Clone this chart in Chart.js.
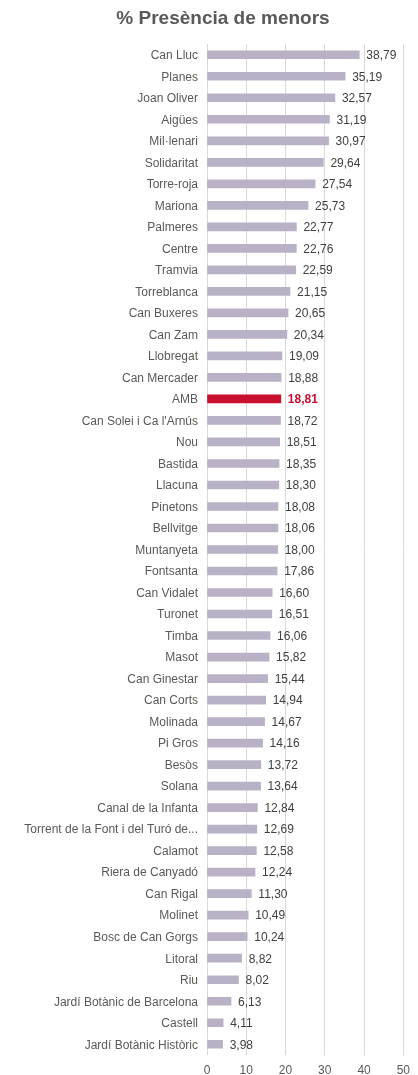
<!DOCTYPE html>
<html>
<head>
<meta charset="utf-8">
<script src="https://cdn.jsdelivr.net/npm/chart.js@4"></script>
<style>
  html, body { margin: 0; padding: 0; background: #fff; }
  #wrap { width: 418px; height: 1075px; position: relative; }
</style>
</head>
<body>
<div id="wrap"><canvas id="chart"></canvas></div>
<script>
const categories = [
  "Can Lluc", "Planes", "Joan Oliver", "Aigües", "Mil·lenari", "Solidaritat",
  "Torre-roja", "Mariona", "Palmeres", "Centre", "Tramvia", "Torreblanca",
  "Can Buxeres", "Can Zam", "Llobregat", "Can Mercader", "AMB",
  "Can Solei i Ca l'Arnús", "Nou", "Bastida", "Llacuna", "Pinetons",
  "Bellvitge", "Muntanyeta", "Fontsanta", "Can Vidalet", "Turonet", "Timba",
  "Masot", "Can Ginestar", "Can Corts", "Molinada", "Pi Gros", "Besòs",
  "Solana", "Canal de la Infanta", "Torrent de la Font i del Turó de...",
  "Calamot", "Riera de Canyadó", "Can Rigal", "Molinet", "Bosc de Can Gorgs",
  "Litoral", "Riu", "Jardí Botànic de Barcelona", "Castell", "Jardí Botànic Històric"
];
const values = [
  38.79, 35.19, 32.57, 31.19, 30.97, 29.64,
  27.54, 25.73, 22.77, 22.76, 22.59, 21.15,
  20.65, 20.34, 19.09, 18.88, 18.81,
  18.72, 18.51, 18.35, 18.30, 18.08,
  18.06, 18.00, 17.86, 16.60, 16.51, 16.06,
  15.82, 15.44, 14.94, 14.67, 14.16, 13.72,
  13.64, 12.84, 12.69,
  12.58, 12.24, 11.30, 10.49, 10.24,
  8.82, 8.02, 6.13, 4.11, 3.98
];
const highlight = "AMB";
const xTicks = [0, 10, 20, 30, 40, 50];
const title = "% Presència de menors";

const barColor = "#b9b2c6";
const hiColor = "#c8102e";
const fontFamily = "'Liberation Sans', Arial, sans-serif";

const fmt = v => v.toFixed(2).replace(".", ",");

// title drawn a bit right of the canvas centre, like the original
const titlePlugin = {
  id: "titlePlugin",
  afterDraw(chart) {
    const ctx = chart.ctx;
    ctx.save();
    ctx.font = "bold 19px " + fontFamily;
    ctx.fillStyle = "#595959";
    ctx.textAlign = "center";
    ctx.textBaseline = "alphabetic";
    ctx.fillText(title, 223, 24);
    ctx.restore();
  }
};

// value labels at the end of each bar
const valueLabels = {
  id: "valueLabels",
  afterDatasetsDraw(chart) {
    const ctx = chart.ctx;
    const meta = chart.getDatasetMeta(0);
    ctx.save();
    ctx.textBaseline = "middle";
    ctx.textAlign = "left";
    meta.data.forEach((bar, i) => {
      const isHi = categories[i] === highlight;
      ctx.font = (isHi ? "bold " : "") + "12px " + fontFamily;
      ctx.fillStyle = isHi ? hiColor : "#404040";
      ctx.fillText(fmt(values[i]), bar.x + 7, bar.y + 1);
    });
    ctx.restore();
  }
};

new Chart(document.getElementById("chart"), {
  type: "bar",
  data: {
    labels: categories,
    datasets: [{
      data: values,
      backgroundColor: categories.map(c => c === highlight ? hiColor : barColor),
      barThickness: 8
    }]
  },
  options: {
    indexAxis: "y",
    responsive: true,
    maintainAspectRatio: false,
    animation: false,
    layout: {
      padding: { left: 0, right: 13, top: 44, bottom: 0 }
    },
    plugins: {
      legend: { display: false },
      tooltip: { enabled: false },
      title: { display: false }
    },
    scales: {
      x: {
        min: 0,
        max: 50,
        afterBuildTicks: axis => { axis.ticks = xTicks.map(v => ({ value: v })); },
        afterFit: axis => { axis.height = 20; },
        grid: { color: "#d9d9d9", drawTicks: false },
        border: { display: false },
        ticks: {
          color: "#595959",
          padding: 8,
          font: { family: fontFamily, size: 12 }
        }
      },
      y: {
        grid: { display: false, drawTicks: false },
        border: { display: false },
        afterFit: axis => { axis.width = 207; },
        ticks: {
          autoSkip: false,
          padding: 9,
          labelOffset: 1,
          color: "#595959",
          font: { family: fontFamily, size: 12 }
        }
      }
    }
  },
  plugins: [valueLabels, titlePlugin]
});
</script>
</body>
</html>
